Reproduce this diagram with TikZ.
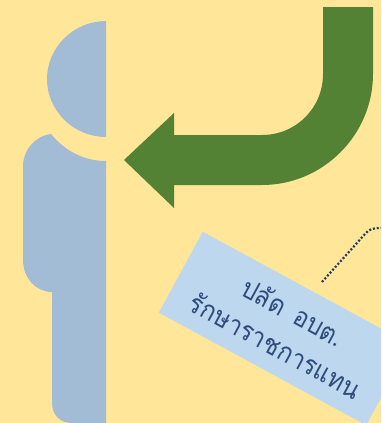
\documentclass[tikz,border=0pt]{standalone}
\usepackage{fontspec}
\newfontfamily\thaifont[Script=Thai,FakeStretch=0.9,WordSpace=1.6]{Loma}
\definecolor{bgcol}{HTML}{FFE699}
\definecolor{figcol}{HTML}{A3BCD6}
\definecolor{arrowcol}{HTML}{548235}
\definecolor{labelcol}{HTML}{BDD7EE}
\definecolor{inkcol}{HTML}{1F3864}
\definecolor{textcol}{HTML}{2F4A7C}
\tikzset{
  figpart/.style={fill=figcol,draw=none},
  bigarrow/.style={fill=arrowcol,draw=none},
  labelbox/.style={fill=labelcol,draw=none,minimum width=236pt,minimum height=92pt,rotate=-28.5,align=center,inner sep=0pt,text=textcol,font=\thaifont\fontsize{27}{38}\selectfont},
  leader/.style={draw=inkcol,line width=2.2pt,dash pattern=on 2pt off 1.9pt}
}
\begin{document}
\begin{tikzpicture}[x=1pt,y=-1pt]
\useasboundingbox (0,0) rectangle (381,423);
\clip (0,0) rectangle (381,423);
\fill[bgcol] (0,0) rectangle (381,423);
% head
\path[figpart] (106,21) .. controls (74,21) and (47,47) .. (47,79) .. controls (47,111) and (74,137) .. (106,137) -- cycle;
% body
\path[figpart] (106,161) .. controls (84,161) and (65,151) .. (51,134)
  .. controls (35,136) and (23,150) .. (23,166)
  -- (23,260) .. controls (23,278) and (36,292) .. (52,292)
  -- (52,403) .. controls (52,415) and (60,423) .. (72,423)
  -- (106,423) -- cycle;
% arrow
\path[bigarrow] (124,160) -- (174,113) -- (174,135) -- (262,135)
  .. controls (296,135) and (323,108) .. (323,74) -- (323,7) -- (373,7) -- (373,74)
  .. controls (373,135) and (323,185) .. (262,185) -- (174,185) -- (174,208) -- cycle;
% label
\node[labelbox] (label) at (284.5,328.5) {ปลัด อบต.\\รักษาราชการแทน};
% leader
\coordinate (leadA) at (322,282);
\coordinate (leadB) at (381,228);
\path[leader] (leadA) -- (365,234) .. controls (369,229) and (373,228) .. (leadB);
\end{tikzpicture}
\end{document}
